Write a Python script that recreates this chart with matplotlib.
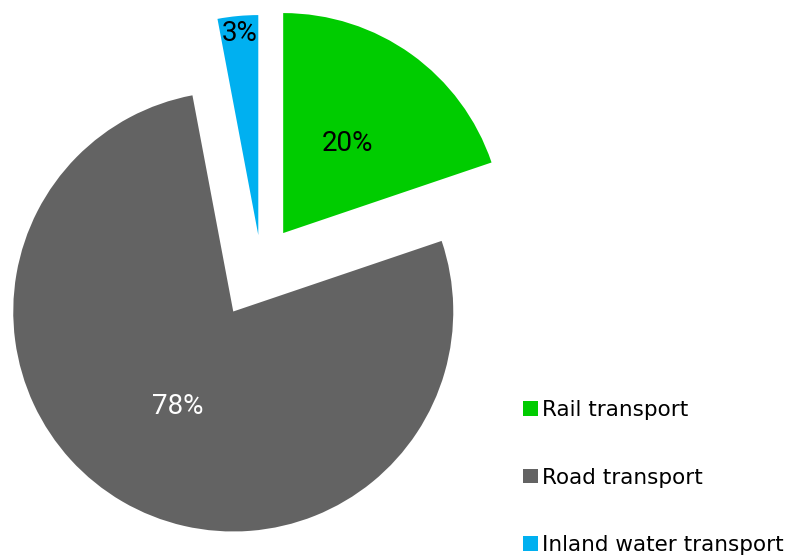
import matplotlib.pyplot as plt
import numpy as np

# share of freight transport by mode
modes = ['Rail transport', 'Road transport', 'Inland water transport']
shares = [20, 78, 3]  # percent
colours = ['#00CC00', '#636363', '#00B0F0']
explode = [0.173, 0.25, 0.132]  # as fraction of the radius
label_dist = [0.5, 0.5, 0.92]
label_colours = ['black', 'white', 'black']

fig = plt.figure(figsize=(7.94, 5.58), dpi=100)
ax = fig.add_axes([0, 0, 1, 1])

R = 220
# pie() takes explode in data units, so scale by the radius
wedges, _ = ax.pie(shares, colors=colours, explode=[e * R for e in explode],
                   startangle=90, counterclock=False, radius=R, center=(261, 294),
                   wedgeprops=dict(linewidth=0))

# percentage labels placed along each slice's middle angle
for w, s, d, c in zip(wedges, shares, label_dist, label_colours):
    a = np.deg2rad((w.theta1 + w.theta2) / 2)
    x = w.center[0] + d * R * np.cos(a)
    y = w.center[1] + d * R * np.sin(a)
    ax.text(x, y, f'{s}%', ha='center', va='center', color=c,
            fontsize=20, family=['Roboto', 'DejaVu Sans'])

ax.set_xlim(0, 794)
ax.set_ylim(0, 558)
ax.set_aspect('equal')
ax.axis('off')

fig.legend(wedges, modes, loc='center left', bbox_to_anchor=(523 / 794, 80.5 / 558),
           frameon=False, fontsize=15.5, handlelength=0.68, handleheight=0.68,
           handletextpad=0.22, labelspacing=2.2, borderpad=0, borderaxespad=0)

fig.savefig('out.png', dpi=100)
